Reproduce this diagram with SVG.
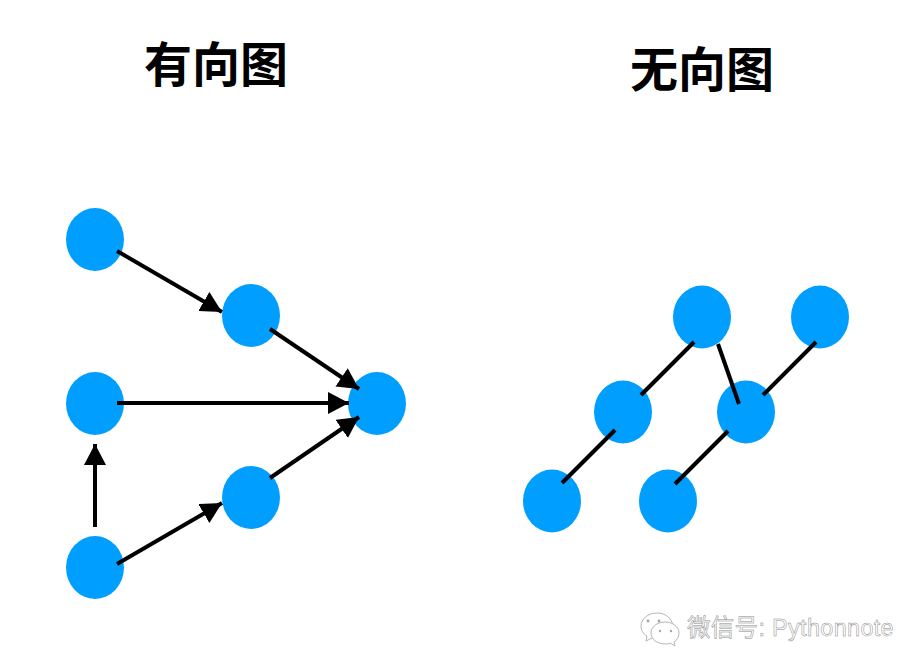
<svg xmlns="http://www.w3.org/2000/svg" width="924" height="670" viewBox="0 0 924 670">
<style>
.n{fill:#009fff}
.t{font-family:"Noto Sans CJK SC","Liberation Sans",sans-serif;font-weight:700;font-size:48px;fill:#000;text-anchor:middle}
.c line{stroke:#000;stroke-width:4;fill:none}
.w{font-family:"Liberation Sans","Noto Sans CJK SC",sans-serif;font-size:23.5px;letter-spacing:.3px;fill:#fff;stroke:#8a8a8a;stroke-width:.5}
.i{fill:#fff;stroke:#b5b5b5;stroke-width:1}
.d{fill:#a5a5a5}
</style>
<defs>
<marker id="a" markerUnits="userSpaceOnUse" markerWidth="24" markerHeight="24" refX="21" refY="11" orient="auto"><path d="M0 0L21 11L0 22z" fill="#000"/></marker>
</defs>
<rect width="924" height="670" fill="#fff"/>
<text class="t" x="216" y="82">有向图</text>
<text class="t" x="702" y="87">无向图</text>
<g id="d1"><ellipse class="n" cx="95" cy="239.500" rx="29" ry="31.500"/></g>
<g id="d2"><ellipse class="n" cx="251" cy="315.500" rx="29" ry="31.500"/></g>
<g id="d3"><ellipse class="n" cx="95" cy="403.500" rx="29" ry="31.500"/></g>
<g id="d4"><ellipse class="n" cx="377" cy="403.500" rx="29" ry="31.500"/></g>
<g id="d5"><ellipse class="n" cx="251" cy="497.500" rx="29" ry="31.500"/></g>
<g id="d6"><ellipse class="n" cx="95" cy="567.500" rx="29" ry="31.500"/></g>
<g id="u1"><ellipse class="n" cx="702" cy="317" rx="29" ry="31.500"/></g>
<g id="u2"><ellipse class="n" cx="820" cy="317" rx="29" ry="31.500"/></g>
<g id="u3"><ellipse class="n" cx="623" cy="412" rx="29" ry="31.500"/></g>
<g id="u4"><ellipse class="n" cx="746" cy="412" rx="29" ry="31.500"/></g>
<g id="u5"><ellipse class="n" cx="552" cy="501" rx="29" ry="31.500"/></g>
<g id="u6"><ellipse class="n" cx="668" cy="501" rx="29" ry="31.500"/></g>
<g id="connectors" class="c">
<line x1="117" y1="251" x2="222" y2="312" marker-end="url(#a)"/>
<line x1="270" y1="329" x2="359" y2="389" marker-end="url(#a)"/>
<line x1="117" y1="403" x2="349" y2="403" marker-end="url(#a)"/>
<line x1="270" y1="478" x2="359" y2="417" marker-end="url(#a)"/>
<line x1="117" y1="564" x2="222" y2="503" marker-end="url(#a)"/>
<line x1="95" y1="527" x2="95" y2="444" marker-end="url(#a)"/>
<line x1="694" y1="342" x2="641" y2="395"/>
<line x1="718" y1="344" x2="739" y2="404"/>
<line x1="816" y1="342" x2="763" y2="395"/>
<line x1="615" y1="430" x2="562" y2="483"/>
<line x1="728" y1="431" x2="675" y2="484"/>
</g>
<path class="i" d="M657 613c-9 0-16 6-16 13 0 4 2 8 6 10l-1 5 6-3c1 0 3 1 5 1 0-8 7-13 16-13-1-8-8-13-16-13z"/>
<path class="i" d="M665 622c-8 0-14 5-14 11s6 11 14 11c2 0 4 0 5-1l5 3-1-4c3-2 5-5 5-9 0-6-6-11-14-11z"/>
<circle class="d" cx="648" cy="621" r="1.400"/><circle class="d" cx="659" cy="621" r="1.400"/>
<circle class="d" cx="660" cy="631" r="1.200"/><circle class="d" cx="671" cy="631" r="1.200"/>
<text class="w" x="687" y="636">微信号: Pythonnote</text>
</svg>
